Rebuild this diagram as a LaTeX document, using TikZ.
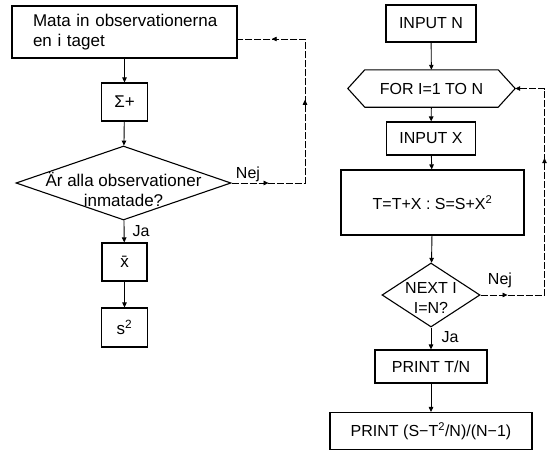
\documentclass[tikz,border=0pt]{standalone}
\usepackage{fontspec}
\setmainfont{Liberation Sans}
\usetikzlibrary{arrows.meta,decorations.markings,shapes.geometric}
\begin{document}
\begin{tikzpicture}[x=1pt,y=-1pt,
  font=\fontsize{16}{20}\selectfont,
  bigtext/.style={font=\fontsize{17}{20}\selectfont},
  box/.style={draw, line width=1.1pt, inner sep=0pt},
  dia/.style={draw, diamond, line width=1.1pt, inner sep=0pt},
  flow/.style={line width=0.9pt, -{Triangle[length=5pt,width=4.5pt]}},
  back/.style={line width=0.7pt, dash pattern=on 7pt off 2pt},
  tip/.style={-{Triangle[length=5pt,width=4.5pt]}},
  lbl/.style={inner sep=1pt},
]
\useasboundingbox (0,0) rectangle (547,450);

% ---------- left column ----------
\node[box, bigtext, minimum width=225pt, minimum height=52pt, text width=183pt, align=left] (b1) at (124.5,32)
  {\mbox{Mata in observationerna}\\\mbox{en i taget}};
\node[box, bigtext, minimum width=46pt, minimum height=38pt] (sig) at (124.5,102) {Σ+};
\node[dia, minimum width=215pt, minimum height=74pt,
  label={[bigtext, align=center, yshift=-6pt]center:Är alla observationer\\inmatade?}] (d1) at (123.5,183) {};
\node[box, bigtext, minimum width=45pt, minimum height=38pt] (xbar) at (124.5,262) {\=x};
\node[box, bigtext, minimum width=46pt, minimum height=39pt] (s2) at (124.5,327.5) {s\textsuperscript{2}};

\draw[flow] (b1) -- (sig);
\draw[flow] (sig) -- (d1);
\draw[flow] (d1) -- (xbar);
\draw[flow] (xbar) -- (s2);

\node[lbl] (ja1) at (141,231) {Ja};
\node[lbl] (nej1) at (248,174) {Nej};

\coordinate (l1) at (305,183);
\coordinate (l2) at (305,39);
\draw[back, postaction={decorate}, decoration={markings,
    mark=at position 0.13 with {\arrow{Triangle[length=5pt,width=4.5pt]}},
    mark=at position 0.55 with {\arrow{Triangle[length=5pt,width=4.5pt]}},
    mark=at position 0.88 with {\arrow{Triangle[length=5pt,width=4.5pt]}}}]
  (d1.east) -- (l1) -- (l2) -- (l2 -| b1.east);

% ---------- right column ----------
\node[box, minimum width=90pt, minimum height=37pt] (inN) at (431,23.5) {INPUT N};
\node[minimum width=133pt, minimum height=37pt, inner sep=0pt] (hex) at (431.5,88.5) {FOR I=1 TO N};
\coordinate (hexR) at ([xshift=17pt]hex.east);
\coordinate (hexL) at ([xshift=-17pt]hex.west);
\draw[line width=1.1pt, line join=miter] (hex.north west) -- (hex.north east) -- (hexR)
  -- (hex.south east) -- (hex.south west) -- (hexL) -- cycle;
\node[box, minimum width=89pt, minimum height=33pt] (inX) at (431,138.5) {INPUT X};
\node[box, minimum width=183pt, minimum height=65pt] (tb) at (432.5,202.5)
  {T=T+X\ :\ S=S+X\textsuperscript{2}};
\node[dia, minimum width=98pt, minimum height=64pt,
  label={[align=center, yshift=-3pt]center:NEXT I\\I=N?}] (d2) at (431,295) {};
\node[box, minimum width=112pt, minimum height=33pt] (ptn) at (431,366.5) {PRINT T/N};
\node[box, minimum width=202pt, minimum height=37pt] (pl) at (431,431)
  {PRINT (S−T\textsuperscript{2}/N)/(N−1)};

\draw[flow] (inN) -- (hex);
\draw[flow] (hex) -- (inX);
\draw[flow] (inX) -- (tb);
\draw[flow] (tb) -- (d2);
\draw[flow] (d2) -- (ptn);
\draw[flow] (ptn) -- (pl);

\node[lbl] (ja2) at (450,337) {Ja};
\node[lbl] (nej2) at (500,280) {Nej};

\coordinate (r1) at (544.5,295);
\coordinate (r2) at (544.5,88.5);
\draw[back, tip, postaction={decorate}, decoration={markings,
    mark=at position 0.09 with {\arrow{Triangle[length=5pt,width=4.5pt]}},
    mark=at position 0.67 with {\arrow{Triangle[length=5pt,width=4.5pt]}}}]
  (d2.east) -- (r1) -- (r2) -- (hexR);
\end{tikzpicture}
\end{document}
